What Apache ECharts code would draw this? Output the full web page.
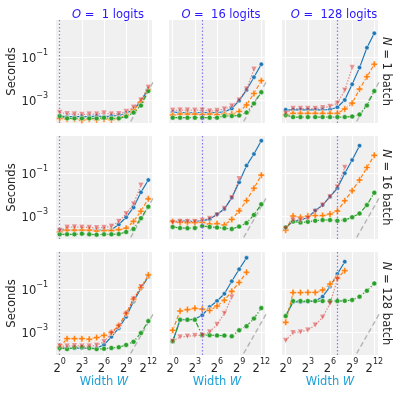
<!DOCTYPE html>
<html>
<head>
<meta charset="utf-8">
<script src="https://cdn.jsdelivr.net/npm/echarts@6/dist/echarts.min.js"></script>
<style>
html, body { margin: 0; padding: 0; background: #fff; }
#chart { width: 398px; height: 395px; }
</style>
</head>
<body>
<div id="chart"></div>
<script>
// widths W (x) shared by every panel
const widths = [1, 2, 4, 8, 16, 32, 64, 128, 256, 512, 1024, 2048, 4096];
const logitsO = [1, 16, 128];
const batchN = [1, 16, 128];
const xTicks = [1, 8, 64, 512, 4096];
const xTickExp = ['0', '3', '6', '9', '12'];
const yTicks = [1e-3, 1e-1];
const yTickExp = ['\u22123', '\u22121'];
// grey reference line (W^2)
const refWidths = [256, 8192];
const refSeconds = [1.07e-5, 1.1e-2];

// N = 1 batch
const n1o1Blue = [1.8e-4, 1.7e-4, 1.7e-4, 1.7e-4, 1.7e-4, 1.8e-4, 1.7e-4, 1.8e-4, 1.9e-4, 2.4e-4, 3.6e-4, 8.5e-4, 3.3e-3];
const n1o1Orange = [1.4e-4, 1.3e-4, 1.3e-4, 1.15e-4, 1.3e-4, 1.2e-4, 1.3e-4, 1.2e-4, 1.4e-4, 2.0e-4, 3.4e-4, 8.0e-4, 3.0e-3];
const n1o1Green = [1.8e-4, 1.4e-4, 1.4e-4, 1.4e-4, 1.4e-4, 1.4e-4, 1.5e-4, 1.4e-4, 1.4e-4, 1.7e-4, 2.6e-4, 5.5e-4, 2.6e-3];
const n1o1Red = [2.6e-4, 2.3e-4, 2.2e-4, 2.1e-4, 2.2e-4, 2.2e-4, 2.5e-4, 2.2e-4, 2.3e-4, 2.9e-4, 4.6e-4, 1.0e-3, 3.9e-3];

const n1o16Blue = [2.7e-4, 2.6e-4, 2.6e-4, 2.5e-4, 2.6e-4, 2.6e-4, 2.6e-4, 2.8e-4, 4.0e-4, 9.3e-4, 2.9e-3, 1.15e-2, 4.6e-2];
const n1o16Orange = [2.0e-4, 2.2e-4, 2.2e-4, 2.2e-4, 2.1e-4, 2.2e-4, 2.1e-4, 2.2e-4, 2.2e-4, 2.9e-4, 5.9e-4, 2.0e-3, 7.9e-3];
const n1o16Green = [1.5e-4, 1.5e-4, 1.5e-4, 1.5e-4, 1.5e-4, 1.5e-4, 1.5e-4, 1.8e-4, 1.8e-4, 1.9e-4, 2.6e-4, 6.9e-4, 2.3e-3];
const n1o16Red = [3.3e-4, 3.4e-4, 3.4e-4, 3.3e-4, 3.4e-4, 3.1e-4, 3.2e-4, 3.8e-4, 5.2e-4, 1.0e-3, 3.2e-3, 2.7e-2];

const n1o128Blue = [3.5e-4, 3.5e-4, 3.5e-4, 3.5e-4, 3.5e-4, 3.5e-4, 3.6e-4, 4.6e-4, 1.0e-3, 5.4e-3, 3.2e-2, 0.27, 1.26];
const n1o128Orange = [2.0e-4, 2.4e-4, 2.4e-4, 2.4e-4, 2.4e-4, 2.4e-4, 2.4e-4, 2.4e-4, 3.8e-4, 7.1e-4, 3.2e-3, 1.2e-2, 4.6e-2];
const n1o128Green = [2.0e-4, 1.6e-4, 1.6e-4, 1.6e-4, 1.6e-4, 1.6e-4, 1.6e-4, 1.6e-4, 1.6e-4, 1.7e-4, 2.1e-4, 5.6e-4, 2.6e-3];
const n1o128Red = [2.4e-4, 4.0e-4, 4.0e-4, 4.0e-4, 4.0e-4, 4.4e-4, 5.0e-4, 7.1e-4, 2.8e-3, 3.2e-2];

// N = 16 batch
const n16o1Blue = [2.2e-4, 2.2e-4, 2.2e-4, 2.2e-4, 2.2e-4, 2.2e-4, 2.2e-4, 2.3e-4, 4.0e-4, 8.7e-4, 2.5e-3, 1.26e-2, 4.7e-2];
const n16o1Orange = [1.8e-4, 2.2e-4, 2.2e-4, 2.2e-4, 2.2e-4, 2.0e-4, 2.1e-4, 2.1e-4, 2.3e-4, 2.7e-4, 5.6e-4, 1.66e-3, 6.3e-3];
const n16o1Green = [1.4e-4, 1.4e-4, 1.4e-4, 1.5e-4, 1.4e-4, 1.35e-4, 1.4e-4, 1.4e-4, 1.45e-4, 1.8e-4, 2.5e-4, 7.9e-4, 2.7e-3];
const n16o1Red = [2.1e-4, 3.0e-4, 3.1e-4, 3.0e-4, 2.9e-4, 2.8e-4, 2.9e-4, 3.3e-4, 5.6e-4, 1.26e-3, 3.6e-3, 2.7e-2];

const n16o16Blue = [5.5e-4, 5.8e-4, 5.8e-4, 5.5e-4, 5.9e-4, 7.1e-4, 1.2e-3, 2.1e-3, 7.1e-3, 3.7e-2, 0.22, 0.76, 3.16];
const n16o16Orange = [5.6e-4, 5.0e-4, 4.9e-4, 4.9e-4, 5.0e-4, 4.2e-4, 4.4e-4, 3.8e-4, 6.9e-4, 1.74e-3, 5.2e-3, 1.95e-2, 7.9e-2];
const n16o16Green = [3.1e-4, 2.75e-4, 2.7e-4, 2.75e-4, 3.4e-4, 3.1e-4, 2.9e-4, 2.7e-4, 2.5e-4, 3.2e-4, 4.7e-4, 1.12e-3, 3.5e-3];
const n16o16Red = [5.0e-4, 5.5e-4, 5.5e-4, 5.5e-4, 6.3e-4, 7.6e-4, 1.1e-3, 2.2e-3, 7.1e-3, 5.4e-2];

const n16o128Blue = [2.95e-4, 5.5e-4, 6.5e-4, 8.7e-4, 1.78e-3, 3.2e-3, 7.9e-3, 1.95e-2, 9.8e-2, 0.4, 1.86];
const n16o128Orange = [2.2e-4, 1.0e-3, 8.7e-4, 1.0e-3, 1.05e-3, 1.05e-3, 1.23e-3, 1.7e-3, 5.1e-3, 1.5e-2, 4.7e-2, 0.18, 0.66];
const n16o128Green = [2.95e-4, 5.5e-4, 5.0e-4, 5.4e-4, 6.0e-4, 6.5e-4, 6.5e-4, 6.0e-4, 6.5e-4, 8.7e-4, 1.3e-3, 3.2e-3, 1.2e-2];
const n16o128Red = [2.6e-4, 6.5e-4, 6.5e-4, 7.9e-4, 1.6e-3, 3.2e-3, 7.9e-3, 2.2e-2, 0.18];

// N = 128 batch
const n128o1Blue = [1.95e-4, 1.74e-4, 1.74e-4, 1.8e-4, 1.74e-4, 1.8e-4, 2.5e-4, 6.0e-4, 1.5e-3, 5.1e-3, 2.6e-2, 0.107, 0.37];
const n128o1Orange = [1.95e-4, 4.9e-4, 4.9e-4, 4.9e-4, 4.6e-4, 5.5e-4, 6.9e-4, 9.5e-4, 2.0e-3, 7.4e-3, 3.4e-2, 0.115, 0.45];
const n128o1Green = [1.8e-4, 1.6e-4, 1.9e-4, 1.95e-4, 1.8e-4, 1.6e-4, 1.66e-4, 1.8e-4, 1.95e-4, 2.5e-4, 3.5e-4, 8.9e-4, 3.2e-3];
const n128o1Red = [2.2e-4, 2.2e-4, 2.3e-4, 2.2e-4, 2.2e-4, 2.4e-4, 3.5e-4, 8.7e-4, 1.8e-3, 6.9e-3, 3.4e-2, 0.126];

const n128o16Blue = [3.5e-4, 3.7e-3, 3.7e-3, 4.0e-3, 6.0e-3, 1.45e-2, 2.75e-2, 6.0e-2, 0.23, 0.83, 2.8];
const n128o16Orange = [1.2e-3, 9.5e-3, 1.1e-2, 1.26e-2, 1.15e-2, 1.0e-2, 1.6e-2, 3.0e-2, 7.8e-2, 0.2, 0.6];
const n128o16Green = [3.7e-4, 3.7e-3, 3.7e-3, 3.7e-3, 7.1e-4, 7.1e-4, 6.9e-4, 6.8e-4, 6.3e-4, 1.2e-3, 1.86e-3, 4.2e-3, 1.3e-2];
const n128o16Red = [3.7e-4, 5.9e-4, 6.3e-4, 6.8e-4, 7.1e-4, 1.0e-3, 2.2e-3, 7.2e-3, 4.2e-2];

const n128o128Blue = [5.5e-3, 2.5e-2, 2.5e-2, 2.6e-2, 2.75e-2, 4.4e-2, 0.13, 0.5, 1.86];
const n128o128Orange = [2.8e-3, 6.8e-2, 6.8e-2, 6.9e-2, 6.9e-2, 8.9e-2, 0.17, 0.32, 0.71];
const n128o128Green = [5.5e-3, 2.75e-2, 2.75e-2, 2.75e-2, 2.75e-2, 2.75e-2, 2.75e-2, 2.75e-2, 2.8e-2, 3.1e-2, 4.4e-2, 8.3e-2, 0.18];
const n128o128Red = [4.0e-4, 9.3e-4, 1.0e-3, 1.23e-3, 2.1e-3, 4.8e-3, 2.1e-2, 0.28];

const panels = [
  [n1o1Blue, n1o1Orange, n1o1Green, n1o1Red],
  [n1o16Blue, n1o16Orange, n1o16Green, n1o16Red],
  [n1o128Blue, n1o128Orange, n1o128Green, n1o128Red],
  [n16o1Blue, n16o1Orange, n16o1Green, n16o1Red],
  [n16o16Blue, n16o16Orange, n16o16Green, n16o16Red],
  [n16o128Blue, n16o128Orange, n16o128Green, n16o128Red],
  [n128o1Blue, n128o1Orange, n128o1Green, n128o1Red],
  [n128o16Blue, n128o16Orange, n128o16Green, n128o16Red],
  [n128o128Blue, n128o128Orange, n128o128Green, n128o128Red]
];

const FONT = 'DejaVu Sans';
const colLeft = [56, 169, 282];
const rowTop = [20, 136, 252];
const PW = 96, PH = 103;

const plusPath = 'path://M2,0H4V2H6V4H4V6H2V4H0V2H2Z';
const looks = [
  { color: '#1f77b4', symbol: 'circle', size: 4.5, type: 'solid', opacity: 1, rotate: 0 },
  { color: '#ff7f0e', symbol: plusPath, size: 6.5, type: [4, 2], opacity: 1, rotate: 0 },
  { color: '#2ca02c', symbol: 'circle', size: 5, type: [5, 2, 1.2, 2], opacity: 1, rotate: 0 },
  { color: '#d62728', symbol: 'triangle', size: 5.5, type: [1.5, 1.5], opacity: 0.5, rotate: 180 }
];

function nearestIdx(list, v) {
  let best = 0;
  list.forEach((t, i) => {
    if (Math.abs(Math.log(t / v)) < Math.abs(Math.log(list[best] / v))) best = i;
  });
  return best;
}

const tickRich = {
  b: { fontFamily: FONT, fontSize: 11.5, color: '#262626', lineHeight: 17, verticalAlign: 'bottom' },
  s: { fontFamily: FONT, fontSize: 8, color: '#262626', lineHeight: 9, verticalAlign: 'top' }
};

const grids = [], xAxes = [], yAxes = [], series = [], titles = [], graphics = [];

for (let r = 0; r < 3; r++) {
  for (let c = 0; c < 3; c++) {
    const p = r * 3 + c;
    grids.push({
      left: colLeft[c], top: rowTop[r], width: PW, height: PH,
      show: true, backgroundColor: '#f0f0f0', borderWidth: 0, containLabel: false
    });
    xAxes.push({
      gridIndex: p, type: 'log', logBase: 2,
      min: Math.SQRT1_2, max: 4096 * Math.SQRT2,
      axisLine: { show: false },
      axisTick: { show: false, customValues: xTicks },
      splitLine: { show: true, lineStyle: { color: '#ffffff', width: 1 } },
      axisLabel: {
        show: r === 2, customValues: xTicks, margin: 3,
        formatter: v => '{b|2}{s|' + xTickExp[nearestIdx(xTicks, v)] + '}',
        rich: tickRich
      }
    });
    yAxes.push({
      gridIndex: p, type: 'log', logBase: 10,
      min: 8.5e-5, max: 5.25,
      axisLine: { show: false },
      axisTick: { show: false, customValues: yTicks },
      splitLine: { show: true, lineStyle: { color: '#ffffff', width: 1 } },
      axisLabel: {
        show: c === 0, customValues: yTicks, margin: 8,
        formatter: v => '{b|10}{s|' + yTickExp[nearestIdx(yTicks, v)] + '}',
        rich: tickRich
      }
    });

    // grey W^2 reference line plus the dotted O marker
    series.push({
      type: 'line', xAxisIndex: p, yAxisIndex: p, z: 1,
      data: refWidths.map((w, i) => [w, refSeconds[i]]),
      showSymbol: false, symbol: 'none', silent: true,
      lineStyle: { color: '#9a9a9a', width: 1.4, type: [5, 3], opacity: 0.7 },
      markLine: {
        silent: true, symbol: 'none', label: { show: false },
        lineStyle: { color: '#7b68ee', width: 1.2, type: [1.5, 2], opacity: 0.9 },
        data: [{ xAxis: logitsO[c] }]
      }
    });

    panels[p].forEach((vals, k) => {
      const lk = looks[k];
      series.push({
        type: 'line', xAxisIndex: p, yAxisIndex: p, z: 2 + k,
        data: vals.map((v, i) => [widths[i], v]),
        symbol: lk.symbol, symbolSize: lk.size, symbolRotate: lk.rotate,
        showAllSymbol: true,
        lineStyle: { color: lk.color, width: 1.2, type: lk.type, opacity: lk.opacity },
        itemStyle: { color: lk.color, borderColor: '#ffffff', borderWidth: 0.5, opacity: lk.opacity }
      });
    });
  }
}

// column titles
logitsO.forEach((o, c) => {
  titles.push({
    text: '{i|O} =  ' + o + ' logits',
    left: colLeft[c] + PW / 2 - 1, top: 4, textAlign: 'center',
    textStyle: {
      fontFamily: FONT, fontSize: 11.5, fontWeight: 'normal', color: '#2a17ff',
      rich: { i: { fontFamily: FONT, fontSize: 11.5, fontStyle: 'italic', color: '#2a17ff' } }
    }
  });
});

// row labels and "Seconds"
batchN.forEach((n, r) => {
  graphics.push({
    type: 'text', x: 386, y: rowTop[r] + PH / 2, rotation: -Math.PI / 2,
    style: {
      text: '{i|N} = ' + n + ' batch', align: 'center', verticalAlign: 'middle',
      font: '11.5px "DejaVu Sans"', fill: '#262626',
      rich: { i: { fontFamily: FONT, fontSize: 11.5, fontStyle: 'italic', fill: '#262626' } }
    }
  });
  graphics.push({
    type: 'text', x: 12, y: rowTop[r] + PH / 2, rotation: Math.PI / 2,
    style: {
      text: 'Seconds', align: 'center', verticalAlign: 'middle',
      font: '11.5px "DejaVu Sans"', fill: '#262626'
    }
  });
});

// x axis names
colLeft.forEach(l => {
  graphics.push({
    type: 'text', x: l + PW / 2, y: 382,
    style: {
      text: 'Width {i|W}', align: 'center', verticalAlign: 'middle',
      font: '11.5px "DejaVu Sans"', fill: '#1a9fd8',
      rich: { i: { fontFamily: FONT, fontSize: 11.5, fontStyle: 'italic', fill: '#1a9fd8' } }
    }
  });
});

const chart = echarts.init(document.getElementById('chart'), null, { renderer: 'canvas' });
chart.setOption({
  animation: false,
  backgroundColor: '#ffffff',
  textStyle: { fontFamily: FONT },
  title: titles,
  grid: grids,
  xAxis: xAxes,
  yAxis: yAxes,
  series: series,
  graphic: graphics
});
</script>
</body>
</html>
